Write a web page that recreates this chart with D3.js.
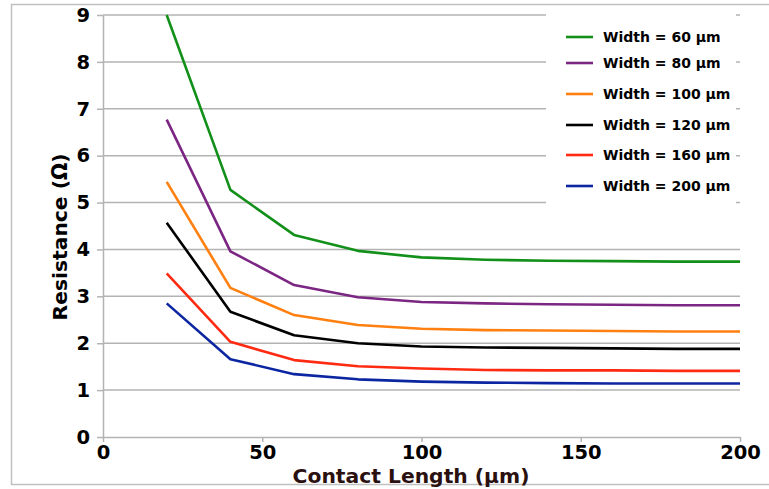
<!DOCTYPE html>
<html lang="en">
<head>
	<meta charset="utf-8">
	<title>Contact resistance</title>
	<script src="https://d3js.org/d3.v7.min.js" charset="utf-8"></script>
	<style>
		body {
		    margin: 0;
		    background: #fff;
		    font-family: "DejaVu Sans", sans-serif;
		}
		.grid line {
		    stroke: #b3b3b3;
		    stroke-width: 1.5px;
		}
		.axis path,
		.axis line {
		    fill: none;
		    stroke: #b3b3b3;
		    stroke-width: 1.5px;
		}
		.axis text {
		    font: bold 19.5px "DejaVu Sans", sans-serif;
		    fill: #000;
		}
		.line {
		    fill: none;
		    stroke-width: 2.6px;
		    stroke-linejoin: round;
		}
		.legend text {
		    font: bold 14px "DejaVu Sans", sans-serif;
		}
	</style>
</head>
<body>
<script>

	// contact length (µm)
	var lengths = [20, 40, 60, 80, 100, 120, 140, 160, 180, 200];

	// series labels and colours
	var widths = ["Width = 60 µm", "Width = 80 µm", "Width = 100 µm", "Width = 120 µm", "Width = 160 µm", "Width = 200 µm"];
	var colors = ["#12901a", "#7b2682", "#ff8010", "#000000", "#ff2a12", "#0c26a2"];

	// resistance (ohm) for each width
	var r60  = [9.00, 5.27, 4.31, 3.97, 3.83, 3.78, 3.76, 3.75, 3.74, 3.74];
	var r80  = [6.77, 3.96, 3.24, 2.98, 2.88, 2.85, 2.83, 2.82, 2.81, 2.81];
	var r100 = [5.44, 3.18, 2.60, 2.39, 2.31, 2.28, 2.27, 2.26, 2.25, 2.25];
	var r120 = [4.57, 2.67, 2.17, 2.00, 1.93, 1.91, 1.90, 1.89, 1.88, 1.88];
	var r160 = [3.49, 2.03, 1.64, 1.51, 1.46, 1.43, 1.42, 1.42, 1.41, 1.41];
	var r200 = [2.85, 1.66, 1.34, 1.23, 1.18, 1.16, 1.15, 1.14, 1.14, 1.14];
	var series = [r60, r80, r100, r120, r160, r200];

	var xTicks = [0, 50, 100, 150, 200];
	var yTicks = [0, 1, 2, 3, 4, 5, 6, 7, 8, 9];

	var width = 769, height = 489;
	var margin = {top: 15, right: 29, bottom: 52, left: 103};

	var svg = d3.select("body")
	    .append("svg")
	    .attr("width", width)
	    .attr("height", height);

	// light outer frame
	svg.append("path")
	    .attr("d", "M790,4.5 H11.5 V484.5 H790")
	    .attr("fill", "none")
	    .attr("stroke", "#c0c0c0")
	    .attr("stroke-width", 1.5);

	var x = d3.scaleLinear()
	    .domain([0, 200])
	    .range([margin.left, width - margin.right]);

	var y = d3.scaleLinear()
	    .domain([0, 9])
	    .range([height - margin.bottom, margin.top]);

	// horizontal grid
	svg.append("g")
	    .attr("class", "grid")
	    .selectAll("line")
	    .data(yTicks.slice(1))
	    .enter()
	    .append("line")
	    .attr("x1", x(0))
	    .attr("x2", x(200))
	    .attr("y1", function(d){ return y(d); })
	    .attr("y2", function(d){ return y(d); });

	// axes
	svg.append("g")
	    .attr("class", "axis")
	    .attr("transform", "translate(0," + y(0) + ")")
	    .call(d3.axisBottom(x).tickValues(xTicks).tickSize(5).tickPadding(3).tickSizeOuter(0));

	svg.append("g")
	    .attr("class", "axis")
	    .attr("transform", "translate(" + x(0) + ",0)")
	    .call(d3.axisLeft(y).tickValues(yTicks).tickSize(6).tickPadding(7).tickSizeOuter(0));

	// curves
	var line = d3.line()
	    .x(function(d, i){ return x(lengths[i]); })
	    .y(function(d){ return y(d); });

	svg.append("g")
	    .selectAll("path")
	    .data(series)
	    .enter()
	    .append("path")
	    .attr("class", "line")
	    .attr("stroke", function(d, i){ return colors[i]; })
	    .attr("d", line);

	// legend, white box sits over the grid
	var legendY = [37, 63, 94, 125, 155, 186];
	var legend = svg.append("g").attr("class", "legend");

	legend.append("rect")
	    .attr("x", 546)
	    .attr("y", 12)
	    .attr("width", 190)
	    .attr("height", 204)
	    .attr("fill", "#fff");

	var item = legend.selectAll("g")
	    .data(widths)
	    .enter()
	    .append("g")
	    .attr("transform", function(d, i){ return "translate(0," + legendY[i] + ")"; });

	item.append("line")
	    .attr("x1", 566)
	    .attr("x2", 593)
	    .attr("stroke", function(d, i){ return colors[i]; })
	    .attr("stroke-width", 2.6);

	item.append("text")
	    .attr("x", 603)
	    .attr("dy", "0.35em")
	    .text(function(d){ return d; });

	// axis titles
	svg.append("text")
	    .attr("transform", "translate(67,237) rotate(-90)")
	    .attr("text-anchor", "middle")
	    .style("font", "bold 20.3px 'DejaVu Sans', sans-serif")
	    .text("Resistance (Ω)");

	svg.append("text")
	    .attr("x", 411)
	    .attr("y", 483)
	    .attr("text-anchor", "middle")
	    .attr("fill", "#2b1010")
	    .style("font", "bold 20.3px 'DejaVu Sans', sans-serif")
	    .text("Contact Length (µm)");

</script>
</body>
</html>
